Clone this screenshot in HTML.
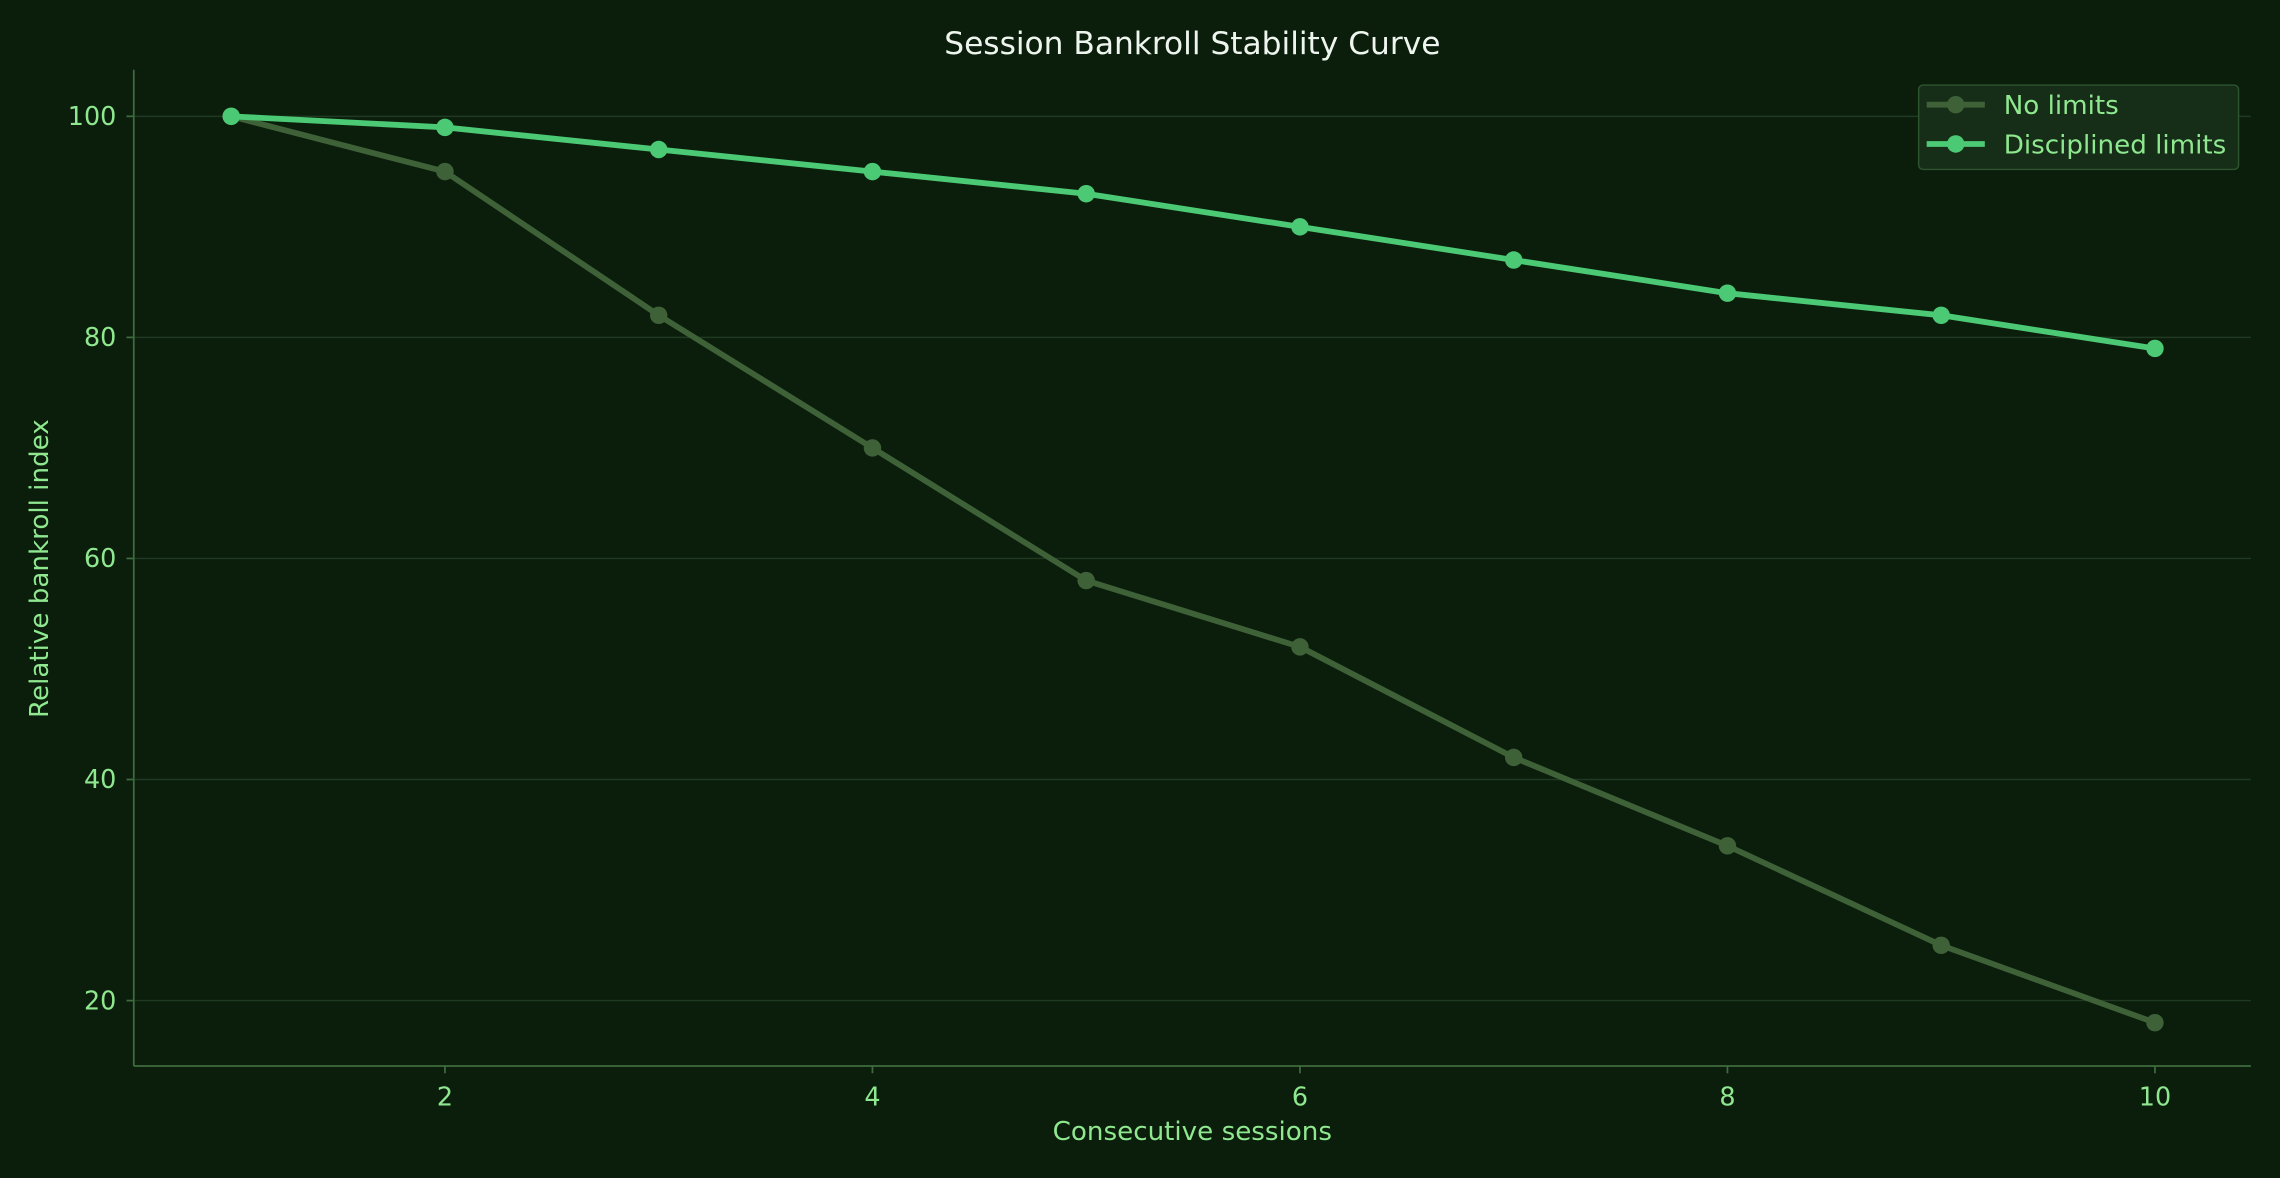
<!DOCTYPE html>
<html><head><meta charset="utf-8"><style>
html,body{margin:0;padding:0;background:#0b1e0c;}
svg{display:block;}
text{font-family:"DejaVu Sans","Liberation Sans",sans-serif;}
</style></head><body>
<svg width="2280" height="1178" viewBox="0 0 1568 810" preserveAspectRatio="none" xmlns="http://www.w3.org/2000/svg">
<rect width="1568" height="810" fill="#0b1e0c"/>
<g stroke="#1f3a20" stroke-width="1">
<line x1="92" x2="1548" y1="80" y2="80"/>
<line x1="92" x2="1548" y1="232" y2="232"/>
<line x1="92" x2="1548" y1="384" y2="384"/>
<line x1="92" x2="1548" y1="536" y2="536"/>
<line x1="92" x2="1548" y1="688" y2="688"/>
</g>
<g stroke="#3f6b3f" stroke-width="1.2">
<line x1="92" x2="92" y1="48" y2="733"/>
<line x1="92" x2="1548" y1="733" y2="733"/>
<line x1="87" x2="92" y1="80" y2="80"/><line x1="87" x2="92" y1="232" y2="232"/><line x1="87" x2="92" y1="384" y2="384"/><line x1="87" x2="92" y1="536" y2="536"/><line x1="87" x2="92" y1="688" y2="688"/>
<line x1="306" x2="306" y1="733" y2="738"/><line x1="600" x2="600" y1="733" y2="738"/><line x1="894" x2="894" y1="733" y2="738"/><line x1="1188" x2="1188" y1="733" y2="738"/><line x1="1482" x2="1482" y1="733" y2="738"/>
</g>
<g fill="#8fe88f" font-size="17.5">
<g text-anchor="end">
<text x="80" y="86">100</text><text x="80" y="238">80</text><text x="80" y="390">60</text><text x="80" y="542">40</text><text x="80" y="694">20</text>
</g>
<g text-anchor="middle">
<text x="306" y="760">2</text><text x="600" y="760">4</text><text x="894" y="760">6</text><text x="1188" y="760">8</text><text x="1482" y="760">10</text>
<text x="820" y="784" font-size="18">Consecutive sessions</text>
<text transform="translate(33,391) rotate(-90)" font-size="18">Relative bankroll index</text>
</g>
</g>
<text x="820" y="37" text-anchor="middle" fill="#eef5ee" font-size="21.5">Session Bankroll Stability Curve</text>
<polyline fill="none" stroke="#3f6138" stroke-width="4" stroke-linejoin="round" points="159,80 306,118 453,216.8 600,308 747,399.2 894,444.8 1041,520.8 1188,581.6 1335,650 1482,703.2"/>
<g fill="#3f6138">
<circle cx="159" cy="80" r="6"/><circle cx="306" cy="118" r="6"/><circle cx="453" cy="216.8" r="6"/><circle cx="600" cy="308" r="6"/><circle cx="747" cy="399.2" r="6"/><circle cx="894" cy="444.8" r="6"/><circle cx="1041" cy="520.8" r="6"/><circle cx="1188" cy="581.6" r="6"/><circle cx="1335" cy="650" r="6"/><circle cx="1482" cy="703.2" r="6"/>
</g>
<polyline fill="none" stroke="#4cc974" stroke-width="4" stroke-linejoin="round" points="159,80 306,87.6 453,102.8 600,118 747,133.2 894,156 1041,178.8 1188,201.6 1335,216.8 1482,239.6"/>
<g fill="#4cc974">
<circle cx="159" cy="80" r="6"/><circle cx="306" cy="87.6" r="6"/><circle cx="453" cy="102.8" r="6"/><circle cx="600" cy="118" r="6"/><circle cx="747" cy="133.2" r="6"/><circle cx="894" cy="156" r="6"/><circle cx="1041" cy="178.8" r="6"/><circle cx="1188" cy="201.6" r="6"/><circle cx="1335" cy="216.8" r="6"/><circle cx="1482" cy="239.6" r="6"/>
</g>
<rect x="1319.5" y="58.5" width="220" height="58" rx="3" fill="#162d18" stroke="#2e5530" stroke-width="1"/>
<line x1="1325" x2="1365" y1="72" y2="72" stroke="#3f6138" stroke-width="4"/><circle cx="1345" cy="72" r="6" fill="#3f6138"/>
<line x1="1325" x2="1365" y1="99" y2="99" stroke="#4cc974" stroke-width="4"/><circle cx="1345" cy="99" r="6" fill="#4cc974"/>
<text x="1378" y="78.5" fill="#8fe88f" font-size="18">No limits</text>
<text x="1378" y="105.5" fill="#8fe88f" font-size="18">Disciplined limits</text>
</svg>
</body></html>
